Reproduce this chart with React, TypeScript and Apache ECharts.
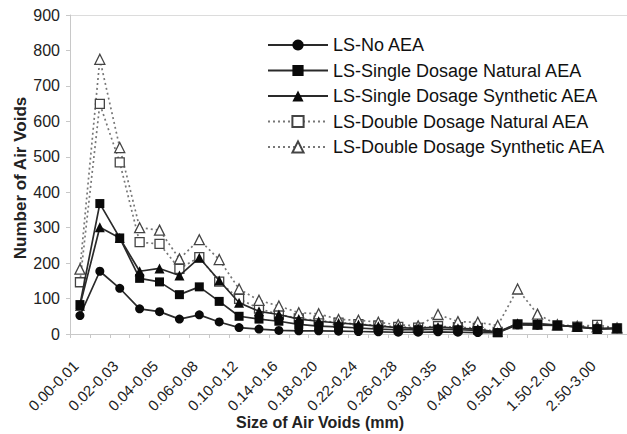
import React, { useEffect, useRef } from "react";
import * as echarts from "echarts";

const categories = [
  "0.00-0.01", "0.01-0.02", "0.02-0.03", "0.03-0.04", "0.04-0.05", "0.05-0.06",
  "0.06-0.08", "0.08-0.10", "0.10-0.12", "0.12-0.14", "0.14-0.16", "0.16-0.18",
  "0.18-0.20", "0.20-0.22", "0.22-0.24", "0.24-0.26", "0.26-0.28", "0.28-0.30",
  "0.30-0.35", "0.35-0.40", "0.40-0.45", "0.45-0.50", "0.50-1.00", "1.00-1.50",
  "1.50-2.00", "2.00-2.50", "2.50-3.00", ">3.00",
];

const noAEA = [52, 177, 129, 71, 63, 42, 54, 34, 18, 14, 10, 9, 9, 8, 7, 6, 5, 5, 6, 5, 4, 4, 26, 25, 24, 20, 15, 15];
const singleNatural = [83, 368, 271, 157, 147, 111, 133, 92, 50, 42, 36, 27, 22, 20, 17, 14, 12, 12, 14, 12, 10, 4, 28, 27, 25, 20, 15, 17];
const singleSynthetic = [80, 301, 271, 177, 185, 165, 215, 151, 88, 64, 55, 42, 36, 31, 27, 22, 18, 16, 20, 16, 14, 5, 30, 29, 25, 20, 14, 16];
const doubleNatural = [146, 649, 484, 259, 254, 184, 217, 148, 99, 72, 55, 44, 38, 32, 28, 24, 20, 18, 22, 19, 17, 6, 27, 26, 24, 21, 26, 16];
const doubleSynthetic = [183, 775, 526, 300, 293, 212, 266, 210, 127, 95, 79, 60, 57, 41, 39, 33, 26, 23, 55, 35, 33, 24, 127, 56, 26, 22, 20, 17];

const seriesNames = [
  "LS-No AEA",
  "LS-Single Dosage Natural AEA",
  "LS-Single Dosage Synthetic AEA",
  "LS-Double Dosage Natural AEA",
  "LS-Double Dosage Synthetic AEA",
];

const yAxisName = "Number of Air Voids";
const xAxisName = "Size of Air Voids (mm)";

const FONT = '"Liberation Sans", Arial, sans-serif';

export default function App() {
  const ref = useRef<HTMLDivElement>(null);

  useEffect(() => {
    if (!ref.current) return;
    const chart = echarts.init(ref.current, undefined, { renderer: "svg" });

    const solid = (name: string, data: number[], symbol: string, size: number) => ({
      name,
      type: "line",
      data,
      symbol,
      symbolSize: size,
      lineStyle: { color: "#2a2a2a", width: 1.7, type: "solid" },
      itemStyle: { color: "#0a0a0a", borderColor: "#0a0a0a", borderWidth: 0 },
      emphasis: { disabled: true },
      z: 3,
    });
    const dotted = (name: string, data: number[], symbol: string, size: number) => ({
      name,
      type: "line",
      data,
      symbol,
      symbolSize: size,
      lineStyle: { color: "#777", width: 1.7, type: [2, 3] },
      itemStyle: { color: "#fff", borderColor: "#444", borderWidth: 1.3 },
      emphasis: { disabled: true },
      z: 2,
    });

    const splitColors = Array.from({ length: 10 }, (_, i) => (i === 9 ? "#dcdcdc" : "rgba(0,0,0,0)"));

    chart.setOption({
      animation: false,
      backgroundColor: "#fff",
      textStyle: { fontFamily: FONT },
      grid: { left: 70, top: 15, right: -6, bottom: 100 },
      legend: {
        orient: "vertical",
        left: 262,
        top: 31,
        itemWidth: 60,
        itemHeight: 14,
        itemGap: 7.5,
        data: seriesNames,
        textStyle: { fontSize: 18, lineHeight: 18, color: "#111", fontFamily: FONT },
        selectedMode: false,
      },
      xAxis: {
        type: "category",
        data: categories,
        boundaryGap: true,
        axisLine: { show: true, lineStyle: { color: "#c8c8c8", width: 1 } },
        axisTick: { show: true, interval: 0, length: 4, lineStyle: { color: "#c8c8c8" } },
        axisLabel: {
          interval: 1,
          rotate: 45,
          margin: 25,
          padding: [0, 6, 0, 0],
          fontSize: 15,
          color: "#222",
          fontFamily: FONT,
        },
        splitLine: { show: false },
      },
      yAxis: {
        type: "value",
        min: 0,
        max: 900,
        interval: 100,
        axisLine: { show: true, lineStyle: { color: "#c8c8c8", width: 1 } },
        axisTick: { show: true, length: 4, lineStyle: { color: "#c8c8c8" } },
        axisLabel: { fontSize: 16, color: "#222", margin: 10, fontFamily: FONT },
        splitLine: { show: true, lineStyle: { color: splitColors, width: 1 } },
      },
      graphic: [
        {
          type: "text",
          x: 20,
          y: 178,
          rotation: Math.PI / 2,
          style: {
            text: yAxisName,
            fontSize: 17,
            fontWeight: "bold",
            fill: "#222",
            fontFamily: FONT,
            align: "center",
            verticalAlign: "middle",
          },
        },
        {
          type: "text",
          x: 320,
          y: 422,
          style: {
            text: xAxisName,
            fontSize: 16,
            fontWeight: "bold",
            fill: "#222",
            fontFamily: FONT,
            align: "center",
            verticalAlign: "middle",
          },
        },
      ],
      series: [
        dotted(seriesNames[3], doubleNatural, "rect", 9),
        dotted(seriesNames[4], doubleSynthetic, "triangle", 10),
        solid(seriesNames[0], noAEA, "circle", 9),
        solid(seriesNames[1], singleNatural, "rect", 9),
        solid(seriesNames[2], singleSynthetic, "triangle", 10),
      ],
    });

    return () => chart.dispose();
  }, []);

  return (
    <div
      ref={ref}
      style={{ position: "fixed", left: 0, top: 0, width: 627, height: 434, background: "#fff" }}
    />
  );
}
